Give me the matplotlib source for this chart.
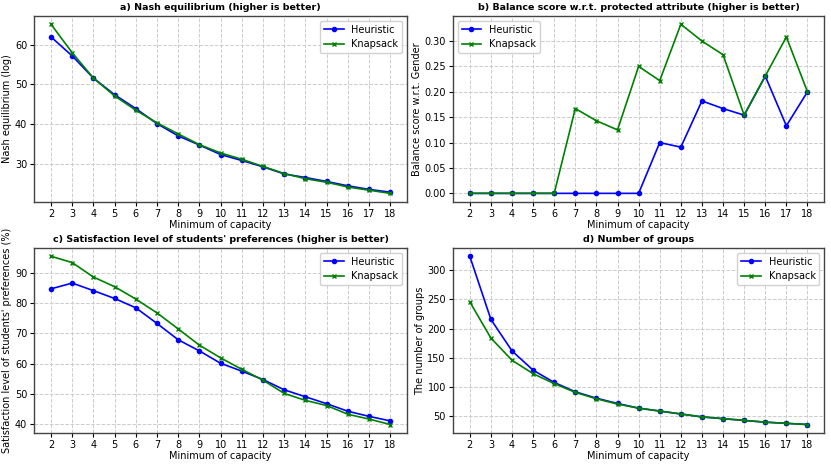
import matplotlib
matplotlib.use("Agg")
import matplotlib.pyplot as plt

capacity = list(range(2, 19))

nash_heuristic = [62.0, 57.2, 51.6, 47.4, 43.9, 40.1, 37.0, 34.7, 32.3, 30.8, 29.2, 27.4, 26.5, 25.5, 24.4, 23.5, 22.8]
nash_knapsack = [65.2, 58.0, 51.6, 47.1, 43.5, 40.3, 37.5, 34.8, 32.7, 31.1, 29.3, 27.5, 26.2, 25.3, 24.1, 23.3, 22.5]

balance_heuristic = [0, 0, 0, 0, 0, 0, 0, 0, 0, 0.100, 0.091, 0.182, 0.167, 0.154, 0.231, 0.133, 0.200]
balance_knapsack = [0, 0, 0, 0, 0, 0.167, 0.143, 0.125, 0.250, 0.222, 0.333, 0.300, 0.273, 0.154, 0.231, 0.308, 0.200]

sat_heuristic = [84.8, 86.7, 84.2, 81.6, 78.5, 73.3, 67.9, 64.2, 60.1, 57.5, 54.7, 51.3, 49.0, 46.7, 44.2, 42.5, 41.0]
sat_knapsack = [95.6, 93.5, 88.7, 85.5, 81.4, 76.8, 71.5, 66.1, 61.9, 58.1, 54.5, 50.1, 47.8, 46.1, 43.2, 41.6, 39.8]

groups_heuristic = [324, 216, 162, 129, 108, 92, 81, 72, 64, 59, 54, 49, 46, 43, 40, 38, 36]
groups_knapsack = [246, 184, 146, 123, 106, 91, 80, 71, 64, 59, 54, 49, 46, 43, 40, 38, 36]

panels = [
    ("a) Nash equilibrium (higher is better)", "Nash equilibrium (log)", nash_heuristic, nash_knapsack, "upper right"),
    ("b) Balance score w.r.t. protected attribute (higher is better)", "Balance score w.r.t. Gender", balance_heuristic, balance_knapsack, "upper left"),
    ("c) Satisfaction level of students' preferences (higher is better)", "Satisfaction level of students' preferences (%)", sat_heuristic, sat_knapsack, "upper right"),
    ("d) Number of groups", "The number of groups", groups_heuristic, groups_knapsack, "upper right"),
]

plt.rcParams['font.family'] = ['DejaVu Sans']
fs = 7
fig = plt.figure(figsize=(8.31, 4.65), dpi=100)
rects = [
    (0.041, 0.566, 0.449, 0.400),
    (0.545, 0.566, 0.447, 0.400),
    (0.041, 0.069, 0.449, 0.398),
    (0.545, 0.069, 0.447, 0.398),
]

for rect, (title, ylabel, h, k, loc) in zip(rects, panels):
    ax = fig.add_axes(rect)
    ax.plot(capacity, h, color='blue', marker='o', markersize=3, linewidth=1.2, label='Heuristic')
    ax.plot(capacity, k, color='green', marker='x', markersize=3.5, linewidth=1.2, label='Knapsack')
    ax.set_title(title, fontsize=6.8, fontweight='bold', pad=4)
    ax.set_xlabel("Minimum of capacity", fontsize=fs, labelpad=1)
    ax.set_ylabel(ylabel, fontsize=fs, labelpad=2)
    ax.set_xticks(capacity)
    ax.tick_params(labelsize=fs, length=3, pad=2)
    ax.grid(True, linestyle='--', color='#cccccc', linewidth=0.7)
    for s in ax.spines.values():
        s.set_color('#444444')
        s.set_linewidth(1.0)
    ax.legend(loc=loc, fontsize=fs, framealpha=0.9)

fig.savefig("out.png", dpi=100)
